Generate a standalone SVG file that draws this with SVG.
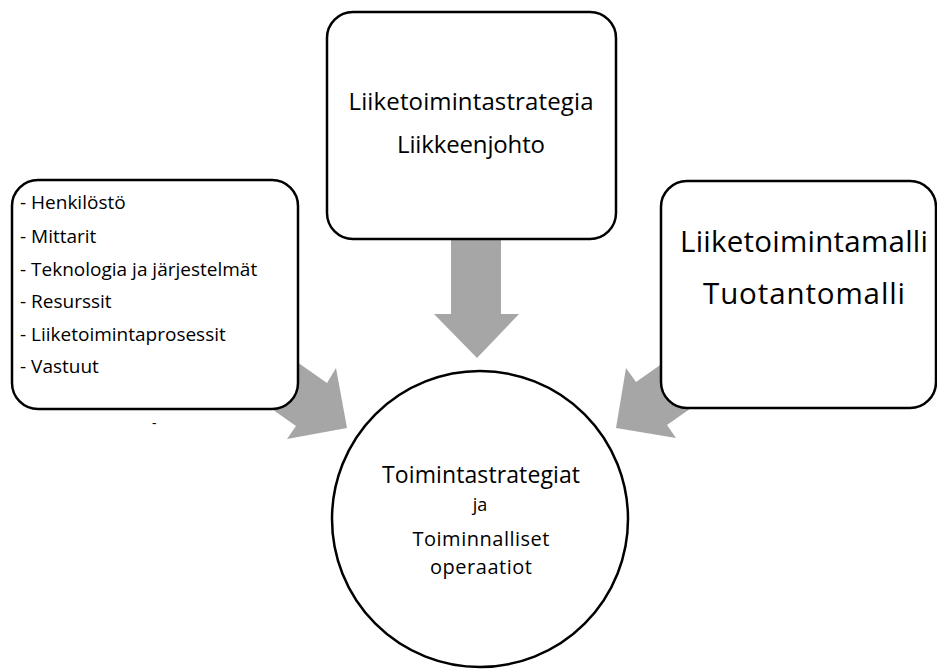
<svg xmlns="http://www.w3.org/2000/svg" width="937" height="670" viewBox="0 0 937 670">
  <style>
    .box { fill: #ffffff; stroke: #000000; stroke-width: 2.5; }
    .flow { fill: #a6a6a6; stroke: none; }
    .t { font-family: "Open Sans", "Noto Sans", "Liberation Sans", sans-serif; fill: #000000; }
    .c { text-anchor: middle; }
    .list { font-size: 19px; }
  </style>
  <rect width="937" height="670" fill="#ffffff"/>

  <!-- block arrows (drawn first so boxes cover the shaft ends) -->
  <g id="connectors">
    <polygon class="flow" points="451,230 501,230 501,314 519,314 477,358 434,314 451,314"/>
    <polygon class="flow" points="270,343 327,383 336,368 347,428 287,439 296,426 239,386"/>
    <polygon class="flow" points="700,337 636,382 626,368 616,428 676,438 667,425 731,380"/>
  </g>

  <g id="node-strategy">
    <rect class="box" x="327" y="12" width="289" height="227" rx="26" ry="26"/>
    <text class="t c" x="471" y="110" font-size="24" textLength="245" lengthAdjust="spacing">Liiketoimintastrategia</text>
    <text class="t c" x="471" y="153" font-size="24" textLength="148" lengthAdjust="spacing">Liikkeenjohto</text>
  </g>

  <g id="node-resources">
    <rect class="box" x="12" y="180" width="286" height="229" rx="26" ry="26"/>
    <text class="t list" x="20" y="209">- Henkilöstö</text>
    <text class="t list" x="20" y="243">- Mittarit</text>
    <text class="t list" x="20" y="276">- Teknologia ja järjestelmät</text>
    <text class="t list" x="20" y="308">- Resurssit</text>
    <text class="t list" x="20" y="341">- Liiketoimintaprosessit</text>
    <text class="t list" x="20" y="373">- Vastuut</text>
    <text class="t" x="152" y="428" font-size="14">-</text>
  </g>

  <g id="node-model">
    <rect class="box" x="661" y="181" width="275" height="227" rx="26" ry="26"/>
    <text class="t c" x="804" y="252" font-size="29.5" textLength="248" lengthAdjust="spacing">Liiketoimintamalli</text>
    <text class="t c" x="804" y="304" font-size="29.5" textLength="202" lengthAdjust="spacing">Tuotantomalli</text>
  </g>

  <g id="node-operations">
    <circle class="box" cx="480" cy="519" r="148"/>
    <text class="t c" x="481" y="483" font-size="23" textLength="198" lengthAdjust="spacing">Toimintastrategiat</text>
    <text class="t c" x="480" y="511" font-size="18">ja</text>
    <text class="t c" x="481" y="546" font-size="20" textLength="137" lengthAdjust="spacing">Toiminnalliset</text>
    <text class="t c" x="481" y="574" font-size="20" textLength="102" lengthAdjust="spacing">operaatiot</text>
  </g>
</svg>
